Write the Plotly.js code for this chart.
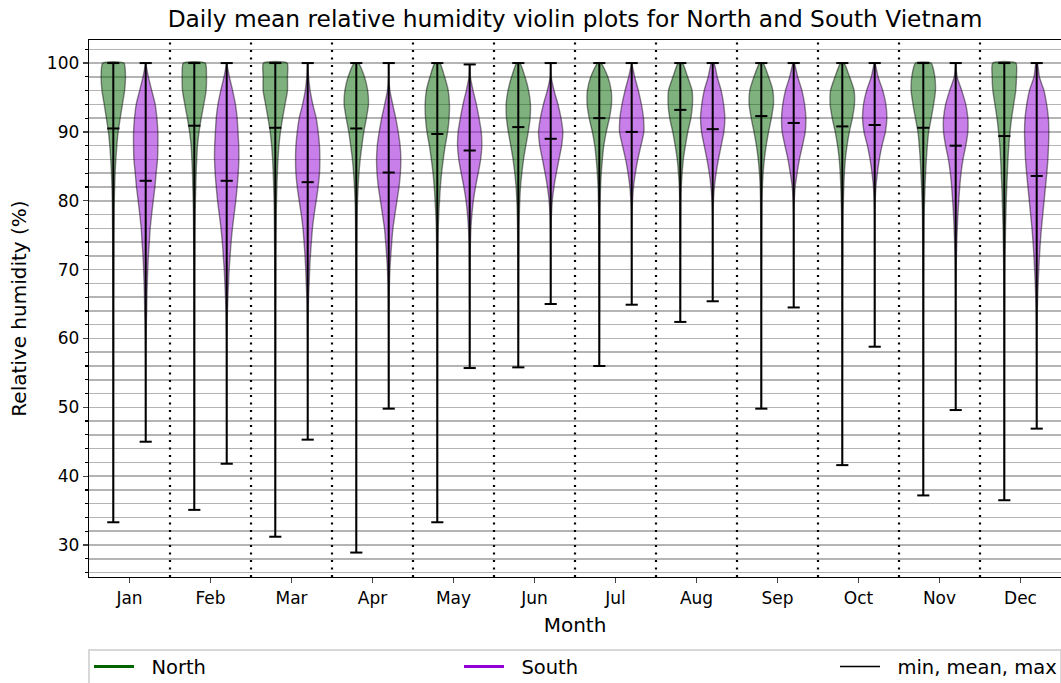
<!DOCTYPE html>
<html><head><meta charset="utf-8">
<script src="https://cdn.plot.ly/plotly-3.0.1.min.js"></script>
<style>body{margin:0;background:#fff}</style>
</head><body><div id="chart" style="width:1061px;height:683px"></div>
<script>
const months = ['Jan','Feb','Mar','Apr','May','Jun','Jul','Aug','Sep','Oct','Nov','Dec'];

const northMin  = [33.3, 35.1, 31.2, 28.9, 33.3, 55.8, 56.0, 62.4, 49.8, 41.6, 37.2, 36.5];
const northMean = [90.5, 90.9, 90.6, 90.5, 89.7, 90.7, 92.0, 93.2, 92.3, 90.8, 90.6, 89.4];
const northMax  = [100, 100, 100, 100, 100, 100, 100, 100, 100, 100, 100, 100];

const southMin  = [45.0, 41.8, 45.3, 49.8, 55.7, 65.0, 64.9, 65.4, 64.5, 58.8, 49.6, 46.9];
const southMean = [82.9, 82.9, 82.7, 84.1, 87.3, 89.0, 90.0, 90.4, 91.3, 91.0, 88.0, 83.6];
const southMax  = [100, 100, 100, 100, 99.8, 100, 100, 100, 100, 100, 100, 100];

// humidity levels at which the violin outlines were read (relative widths, 1 = widest)
const levels = [100,98,96,94,92,90,88,86,84,82,80,78,76,74,72,70,68,66,64,62,60,55,50,45,40,35,30];

const northDensity = [
  [0.87,1.0,0.93,0.75,0.57,0.40,0.29,0.21,0.15,0.11,0.08,0.07,0.06,0.05,0.05,0.04,0.04,0.03,0.03,0.03,0.03,0.02,0.02,0.02,0.01,0.01,0],
  [0.90,1.0,0.97,0.78,0.57,0.39,0.26,0.20,0.15,0.12,0.09,0.07,0.06,0.05,0.05,0.04,0.04,0.03,0.03,0.03,0.02,0.02,0.02,0.01,0.01,0.01,0],
  [0.97,1.0,1.0,0.80,0.60,0.42,0.30,0.22,0.17,0.13,0.10,0.08,0.07,0.06,0.05,0.05,0.04,0.04,0.03,0.03,0.03,0.02,0.02,0.02,0.01,0.01,0],
  [0.17,0.67,0.94,1.0,0.83,0.62,0.46,0.32,0.22,0.15,0.10,0.07,0.06,0.05,0.04,0.04,0.03,0.03,0.03,0.02,0.02,0.02,0.02,0.01,0.01,0.01,0],
  [0.20,0.60,0.90,1.0,0.97,0.85,0.65,0.49,0.35,0.25,0.18,0.12,0.08,0.06,0.05,0.04,0.04,0.03,0.03,0.02,0.02,0.02,0.01,0.01,0.01,0.01,0],
  [0.13,0.55,0.85,1.0,0.97,0.82,0.62,0.43,0.29,0.18,0.12,0.08,0.06,0.05,0.04,0.03,0.03,0.02,0.02,0.02,0.01,0.01,0,0,0,0,0],
  [0.14,0.70,0.98,1.0,0.83,0.57,0.37,0.25,0.16,0.10,0.07,0.05,0.04,0.04,0.03,0.03,0.02,0.02,0.02,0.01,0.01,0.01,0,0,0,0,0],
  [0.17,0.60,0.97,1.0,0.87,0.62,0.42,0.25,0.15,0.08,0.05,0.04,0.03,0.03,0.02,0.02,0.02,0.01,0.01,0.01,0.01,0,0,0,0,0,0],
  [0.14,0.60,0.95,1.0,0.83,0.60,0.40,0.25,0.15,0.09,0.06,0.05,0.04,0.03,0.03,0.02,0.02,0.02,0.01,0.01,0.01,0.01,0.01,0,0,0,0],
  [0.14,0.60,0.97,1.0,0.83,0.58,0.39,0.25,0.17,0.12,0.09,0.06,0.05,0.04,0.04,0.03,0.03,0.02,0.02,0.02,0.02,0.01,0.01,0.01,0,0,0],
  [0.64,0.95,1.0,0.85,0.65,0.44,0.33,0.25,0.19,0.14,0.10,0.07,0.06,0.05,0.04,0.04,0.03,0.03,0.03,0.02,0.02,0.02,0.01,0.01,0.01,0,0],
  [0.95,1.0,0.94,0.77,0.60,0.47,0.37,0.30,0.25,0.20,0.16,0.13,0.10,0.08,0.06,0.05,0.04,0.04,0.03,0.03,0.03,0.02,0.02,0.02,0.01,0.01,0]
];

const southDensity = [
  [0,0.22,0.50,0.78,0.92,1.0,1.0,0.97,0.86,0.76,0.62,0.49,0.37,0.30,0.22,0.17,0.13,0.10,0.08,0.05,0.03,0.01,0.01,0,0,0,0],
  [0,0.22,0.49,0.72,0.86,0.93,0.99,1.0,0.95,0.86,0.75,0.61,0.47,0.36,0.28,0.20,0.15,0.10,0.06,0.04,0.02,0.01,0.01,0,0,0,0],
  [0,0.07,0.20,0.42,0.70,0.86,0.97,1.0,0.97,0.86,0.70,0.53,0.39,0.30,0.22,0.16,0.12,0.07,0.05,0.03,0.02,0.01,0,0,0,0,0],
  [0,0,0.10,0.33,0.58,0.78,0.94,1.0,0.96,0.85,0.68,0.51,0.35,0.25,0.17,0.10,0.06,0.04,0.03,0.02,0.01,0.01,0,0,0,0,0],
  [0,0.05,0.28,0.55,0.77,0.95,1.0,0.90,0.70,0.48,0.30,0.18,0.10,0.06,0.04,0.03,0.02,0.02,0.01,0.01,0.01,0,0,0,0,0,0],
  [0,0.04,0.28,0.60,0.85,1.0,0.90,0.68,0.46,0.27,0.13,0.06,0.03,0.02,0.01,0.01,0.01,0,0,0,0,0,0,0,0,0,0],
  [0,0.25,0.55,0.80,0.97,1.0,0.76,0.50,0.30,0.15,0.07,0.03,0.02,0.01,0.01,0.01,0.01,0,0,0,0,0,0,0,0,0,0],
  [0.10,0.37,0.70,0.90,1.0,0.92,0.70,0.47,0.28,0.14,0.06,0.02,0.01,0.01,0.01,0.01,0.01,0,0,0,0,0,0,0,0,0,0],
  [0.04,0.33,0.68,0.90,1.0,0.95,0.72,0.47,0.28,0.12,0.05,0.02,0.01,0.01,0.01,0.01,0.01,0,0,0,0,0,0,0,0,0,0],
  [0.02,0.28,0.67,0.92,1.0,0.88,0.60,0.38,0.22,0.10,0.04,0.02,0.01,0.01,0.01,0.01,0.01,0.01,0.01,0.01,0,0,0,0,0,0,0],
  [0,0.12,0.50,0.83,1.0,1.0,0.83,0.60,0.44,0.33,0.25,0.18,0.13,0.09,0.06,0.04,0.03,0.02,0.02,0.01,0.01,0.01,0,0,0,0,0],
  [0.05,0.22,0.60,0.82,0.96,1.0,0.97,0.92,0.83,0.72,0.61,0.50,0.39,0.30,0.23,0.17,0.12,0.08,0.05,0.03,0.02,0.01,0.01,0,0,0,0]
];

const seriesNames = ['North', 'South', 'min, mean, max'];
const seriesColors = ['#006400', '#9400d3', 'black'];

const OFFSET = 0.2, HALF = 0.15, CAP = 0.075;

function densAt(dens, v) {
  for (let i = 0; i < levels.length - 1; i++) {
    if (v <= levels[i] && v >= levels[i + 1]) {
      const t = (levels[i] - v) / (levels[i] - levels[i + 1]);
      return dens[i] + (dens[i + 1] - dens[i]) * t;
    }
  }
  return 0;
}

function violinTrace(center, dens, lo, hi, fill) {
  const ys = [hi], ws = [densAt(dens, hi)];
  levels.forEach((l, i) => { if (l < hi && l > lo) { ys.push(l); ws.push(dens[i]); } });
  ys.push(lo); ws.push(0);
  const x = [], y = [];
  for (let i = 0; i < ys.length; i++) { x.push(center + HALF * ws[i]); y.push(ys[i]); }
  for (let i = ys.length - 1; i >= 0; i--) { x.push(center - HALF * ws[i]); y.push(ys[i]); }
  x.push(x[0]); y.push(y[0]);
  return {x, y, type: 'scatter', mode: 'lines', fill: 'toself', fillcolor: fill,
    line: {color: 'rgba(0,0,0,0.45)', width: 1.4, shape: 'spline', smoothing: 0.6},
    hoverinfo: 'skip', showlegend: false};
}

function statTrace(centers, mins, means, maxs) {
  const x = [], y = [];
  centers.forEach((c, i) => {
    x.push(c, c, null); y.push(mins[i], maxs[i], null);
    [mins[i], means[i], maxs[i]].forEach(v => { x.push(c - CAP, c + CAP, null); y.push(v, v, null); });
  });
  return {x, y, type: 'scatter', mode: 'lines', line: {color: 'black', width: 2},
    hoverinfo: 'skip', showlegend: false};
}

const pos = months.map((m, i) => i + 1);
const nC = pos.map(p => p - OFFSET), sC = pos.map(p => p + OFFSET);
const traces = [];
pos.forEach((p, i) => {
  traces.push(violinTrace(nC[i], northDensity[i], northMin[i], northMax[i], 'rgba(0,100,0,0.5)'));
  traces.push(violinTrace(sC[i], southDensity[i], southMin[i], southMax[i], 'rgba(148,0,211,0.5)'));
});
traces.push(statTrace(nC, northMin, northMean, northMax));
traces.push(statTrace(sC, southMin, southMean, southMax));
const legendIds = ['legend', 'legend2', 'legend3'];
seriesNames.forEach((n, k) => {
  traces.push({x: [null], y: [null], type: 'scatter', mode: 'lines', name: '\u00a0\u00a0' + n,
    line: {color: seriesColors[k], width: k < 2 ? 3 : 1.5}, legend: legendIds[k], showlegend: true});
});

const shapes = pos.slice(0, -1).map(p => ({type: 'line', xref: 'x', yref: 'paper', x0: p + 0.5, x1: p + 0.5, y0: 0, y1: 1,
  line: {color: 'black', width: 2.2, dash: '2px,5.5px'}, layer: 'above'}));
// legend frame
shapes.push({type: 'rect', xref: 'paper', yref: 'paper', x0: 0, x1: 1.0, y0: -0.136, y1: -0.3,
  line: {color: '#cccccc', width: 1.5}, fillcolor: 'rgba(0,0,0,0)', layer: 'above'});

const legendBase = {orientation: 'h', xanchor: 'left', y: -0.131, yanchor: 'top', itemwidth: 40,
  borderwidth: 0, bgcolor: 'rgba(0,0,0,0)', font: {size: 19.5}};

const layout = {
  width: 1061, height: 683,
  margin: {l: 89, r: 0, t: 40, b: 106, autoexpand: false},
  paper_bgcolor: 'white', plot_bgcolor: 'white',
  font: {family: 'DejaVu Sans', size: 17, color: 'black'},
  title: {text: 'Daily mean relative humidity violin plots for North and South Vietnam',
    xref: 'paper', x: 0.5, xanchor: 'center', yref: 'container', y: 1 - 19 / 683, yanchor: 'middle', font: {size: 23.3}},
  xaxis: {range: [0.5, 12.5], tickvals: pos, ticktext: months, ticks: 'outside', ticklen: 5, tickwidth: 1.2,
    showgrid: false, zeroline: false, showline: true, linecolor: 'black', linewidth: 1.3, mirror: true,
    title: {text: 'Month', standoff: 11}},
  yaxis: {range: [25.35, 103.35], tickvals: [30, 40, 50, 60, 70, 80, 90, 100], ticks: 'outside', ticklen: 5, tickwidth: 1.2,
    showgrid: true, gridcolor: '#b4b4b4', gridwidth: 1.5, zeroline: false, showline: true, linecolor: 'black', linewidth: 1.3,
    minor: {dtick: 2, tick0: 0, showgrid: true, gridcolor: '#b4b4b4', gridwidth: 1.5, ticks: 'outside', ticklen: 3, tickcolor: 'black'},
    title: {text: 'Relative humidity (%)', standoff: 14}},
  legend: Object.assign({}, legendBase, {x: 0}),
  legend2: Object.assign({}, legendBase, {x: (459 - 89) / 972}),
  legend3: Object.assign({}, legendBase, {x: (835 - 89) / 972}),
  showlegend: true,
  shapes
};
Plotly.newPlot('chart', traces, layout, {displayModeBar: false, staticPlot: true});
</script></body></html>
